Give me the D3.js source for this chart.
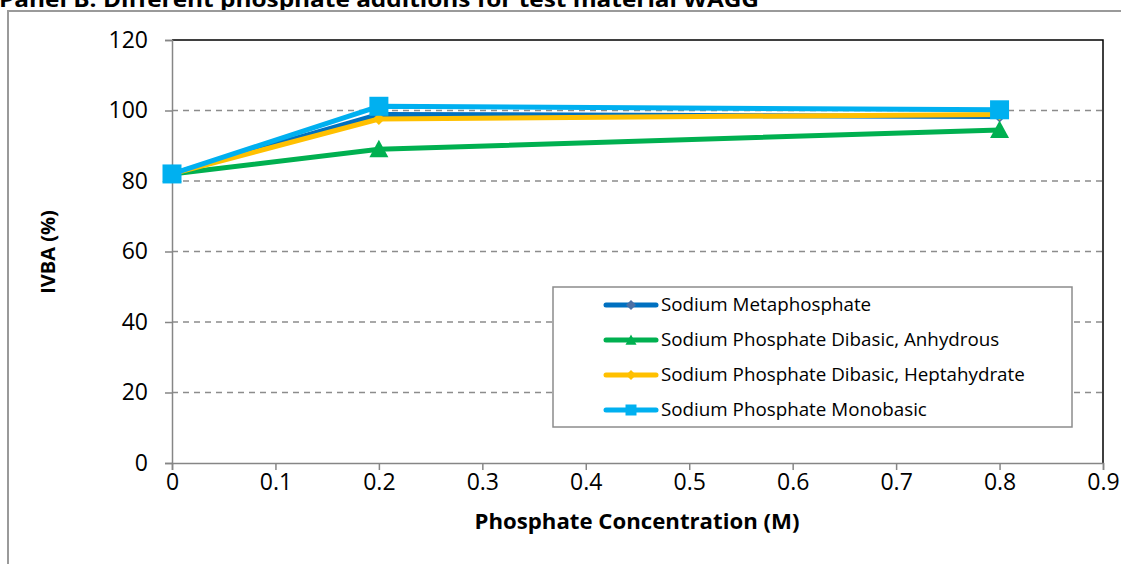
<!DOCTYPE html>
<html>
<head>
<meta charset="utf-8">
<script src="https://cdn.jsdelivr.net/npm/d3@7"></script>
<style>
  html, body { margin: 0; padding: 0; background: #fff; }
  svg { display: block; font-family: "Open Sans", Lato, sans-serif; }
</style>
</head>
<body>
<svg id="chart" width="1121" height="564"></svg>
<script>
// Phosphate concentration (M) at which IVBA was measured
const concentrations = [0, 0.2, 0.8];

// IVBA (%) for each phosphate additive
const metaphosphate = [82, 98.9, 98.3];
const dibasicAnhydrous = [82, 89, 94.5];
const dibasicHeptahydrate = [82, 97.6, 98.9];
const monobasic = [82, 101.2, 100.2];

const seriesNames = [
  "Sodium Metaphosphate",
  "Sodium Phosphate Dibasic, Anhydrous",
  "Sodium Phosphate Dibasic, Heptahydrate",
  "Sodium Phosphate Monobasic"
];

const xTicks = [0, 0.1, 0.2, 0.3, 0.4, 0.5, 0.6, 0.7, 0.8, 0.9];
const yTicks = [0, 20, 40, 60, 80, 100, 120];

const title = "Panel B: Different phosphate additions for test material WAGG";
const xTitle = "Phosphate Concentration (M)";
const yTitle = "IVBA (%)";

const series = [
  { name: seriesNames[0], values: metaphosphate, color: "#0070C0", marker: "diamond", mColor: "#4A6FA5" },
  { name: seriesNames[1], values: dibasicAnhydrous, color: "#00B050", marker: "triangle", mColor: "#00B050" },
  { name: seriesNames[2], values: dibasicHeptahydrate, color: "#FFC000", marker: "diamond", mColor: "#FFC000" },
  { name: seriesNames[3], values: monobasic, color: "#00B0F0", marker: "square", mColor: "#00B0F0" }
];

const svg = d3.select("#chart");
const margin = { left: 172, right: 1103, top: 40, bottom: 463 };

const x = d3.scaleLinear().domain([0, 0.9]).range([margin.left, margin.right]);
const y = d3.scaleLinear().domain([0, 120]).range([margin.bottom, margin.top]);

// Title, running off the top edge of the page
svg.append("text")
  .attr("x", -1).attr("y", 7)
  .attr("font-weight", "bold").attr("font-size", 22)
  .attr("textLength", 760).attr("lengthAdjust", "spacingAndGlyphs")
  .attr("fill", "#000")
  .text(title);

// Outer chart frame
svg.append("rect")
  .attr("x", 8).attr("y", 11)
  .attr("width", 1130).attr("height", 600)
  .attr("fill", "none").attr("stroke", "#9a9a9a").attr("stroke-width", 2);

// Dashed horizontal gridlines
svg.append("g")
  .selectAll("line")
  .data(yTicks.filter(d => d > 0 && d < 120))
  .join("line")
  .attr("x1", margin.left).attr("x2", margin.right)
  .attr("y1", d => y(d)).attr("y2", d => y(d))
  .attr("stroke", "#8c8c8c").attr("stroke-width", 1.5)
  .attr("stroke-dasharray", "6,5");

// Top and right plot borders
svg.append("path")
  .attr("d", `M${margin.left},${y(120)}H${margin.right}V${y(0)}`)
  .attr("fill", "none").attr("stroke", "#000").attr("stroke-width", 1.5);

// Y axis
const yAxis = svg.append("g")
  .attr("transform", `translate(${margin.left},0)`)
  .call(d3.axisLeft(y).tickValues(yTicks).tickSize(7).tickPadding(17).tickFormat(d3.format("d")));
yAxis.select(".domain").attr("stroke", "#868686").attr("stroke-width", 1.5);
yAxis.selectAll(".tick line").attr("stroke", "#868686").attr("stroke-width", 1.5);
yAxis.selectAll(".tick text").attr("font-size", 23).attr("fill", "#000")
  .attr("font-family", "'Open Sans', sans-serif");

// X axis
const xAxis = svg.append("g")
  .attr("transform", `translate(0,${margin.bottom})`)
  .call(d3.axisBottom(x).tickValues(xTicks).tickSize(7).tickPadding(4).tickFormat(d => d3.format("")(d)));
xAxis.select(".domain").attr("stroke", "#868686").attr("stroke-width", 1.5);
xAxis.selectAll(".tick line").attr("stroke", "#868686").attr("stroke-width", 1.5);
xAxis.selectAll(".tick text").attr("font-size", 23).attr("fill", "#000")
  .attr("font-family", "'Open Sans', sans-serif");

// Axis titles
svg.append("text")
  .attr("transform", `translate(55,252) rotate(-90)`)
  .attr("text-anchor", "middle")
  .attr("font-weight", "bold").attr("font-size", 20)
  .text(yTitle);

svg.append("text")
  .attr("x", 637).attr("y", 529)
  .attr("text-anchor", "middle")
  .attr("font-weight", "bold").attr("font-size", 22.2)
  .text(xTitle);

// Marker shapes
function markerPath(type, size) {
  const h = size / 2;
  if (type === "square") return `M${-h},${-h}H${h}V${h}H${-h}Z`;
  if (type === "diamond") return `M0,${-h}L${h},0L0,${h}L${-h},0Z`;
  // triangle
  return `M0,${-h}L${h},${h * 0.85}H${-h}Z`;
}
const markerSize = { square: 19, triangle: 19, diamond: 12 };

const line = d3.line()
  .x((d, i) => x(concentrations[i]))
  .y(d => y(d));

const plot = svg.append("g");
series.forEach(s => {
  const g = plot.append("g");
  g.append("path")
    .datum(s.values)
    .attr("d", line)
    .attr("fill", "none")
    .attr("stroke", s.color)
    .attr("stroke-width", 5)
    .attr("stroke-linejoin", "round");
  g.selectAll("path.mk")
    .data(s.values)
    .join("path")
    .attr("class", "mk")
    .attr("transform", (d, i) => `translate(${x(concentrations[i])},${y(d)})`)
    .attr("d", markerPath(s.marker, markerSize[s.marker]))
    .attr("fill", s.mColor);
});

// Legend
const legend = svg.append("g");
legend.append("rect")
  .attr("x", 553).attr("y", 287)
  .attr("width", 519).attr("height", 140)
  .attr("fill", "#fff").attr("stroke", "#8c8c8c").attr("stroke-width", 1.5);

const legendY = d3.scalePoint().domain(seriesNames).range([305, 410]);
series.forEach(s => {
  const ly = legendY(s.name);
  legend.append("line")
    .attr("x1", 606).attr("x2", 656)
    .attr("y1", ly).attr("y2", ly)
    .attr("stroke", s.color).attr("stroke-width", 5)
    .attr("stroke-linecap", "round");
  const ms = s.marker === "diamond" ? 10 : 11;
  legend.append("path")
    .attr("transform", `translate(631,${ly})`)
    .attr("d", markerPath(s.marker, ms))
    .attr("fill", s.mColor);
  legend.append("text")
    .attr("x", 661).attr("y", ly + 6)
    .attr("font-size", 18.8)
    .attr("fill", "#000")
    .text(s.name);
});
</script>
</body>
</html>
